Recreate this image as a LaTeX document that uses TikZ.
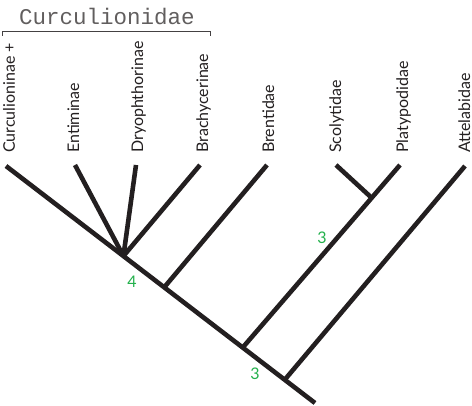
\documentclass[tikz,border=0pt]{standalone}
\usepackage{fontspec}
\usetikzlibrary{calc}
\setmainfont{Lato}
\newfontfamily\monofam{Liberation Mono}
\definecolor{ink}{HTML}{231F20}
\definecolor{support}{HTML}{22B04B}
\begin{document}
\begin{tikzpicture}[x=1pt,y=-1pt,
  branch/.style={draw=ink,line width=4.6pt,line cap=butt},
  taxon/.style={rotate=90,anchor=base west,inner sep=0pt,font=\fontsize{16}{17}\selectfont,text=ink},
  bootval/.style={inner sep=0pt,font=\fontsize{16}{17}\selectfont,text=support}]
\useasboundingbox (0,0) rectangle (472,406);

% tips of the tree
\coordinate (tCurc) at (6,166);
\coordinate (tEnti) at (75,165);
\coordinate (tDryo) at (136,165);
\coordinate (tBrac) at (200,165);
\coordinate (tBren) at (267,165);
\coordinate (tScol) at (336,165);
\coordinate (tPlat) at (400,165);
\coordinate (tAtte) at (465,166);

% internal nodes along the spine
\coordinate (root) at (315,403);
\coordinate (nCurc) at ($(tCurc)!0.380!(root)$);
\coordinate (nBren) at ($(tCurc)!0.512!(root)$);
\coordinate (nScPl) at ($(tCurc)!0.766!(root)$);
\coordinate (nAtte) at ($(tCurc)!0.902!(root)$);
\coordinate (nPair) at ($(tPlat)!0.18!(nScPl)$);

% branches
\draw[branch] (tCurc) -- (root);
\draw[branch] (tEnti) -- (nCurc);
\draw[branch] (tDryo) -- (nCurc);
\draw[branch] (tBrac) -- (nCurc);
\draw[branch] (tBren) -- (nBren);
\draw[branch] (tPlat) -- (nScPl);
\draw[branch] (tScol) -- (nPair);
\draw[branch] (tAtte) -- (nAtte);

% taxon names
\node[taxon] (lCurc) at (15,153) {Curculioninae +};
\node[taxon] (lEnti) at (79,153) {Entiminae};
\node[taxon] (lDryo) at (143,153) {Dryophthorinae};
\node[taxon] (lBrac) at (208,153) {Brachycerinae};
\node[taxon] (lBren) at (274,153) {Brentidae};
\node[taxon] (lScol) at (341,153) {Scolytidae};
\node[taxon] (lPlat) at (408,153) {Platypodidae};
\node[taxon] (lAtte) at (470,153) {Attelabidae};

% support values
\node[bootval] (b4) at (132,282) {4};
\node[bootval] (b3a) at (322,238) {3};
\node[bootval] (b3b) at (255,374) {3};

% family bracket
\coordinate (brL) at (2,36);
\coordinate (brR) at (210,36);
\draw[ink!85,line width=0.9pt] (brL) -- ++(0,-4.5) -| (brR);
\node[inner sep=0pt,anchor=base,text=ink!72,font=\monofam\fontsize{22.5}{23}\selectfont] (fam) at (107,25) {Curculionidae};
\end{tikzpicture}
\end{document}
